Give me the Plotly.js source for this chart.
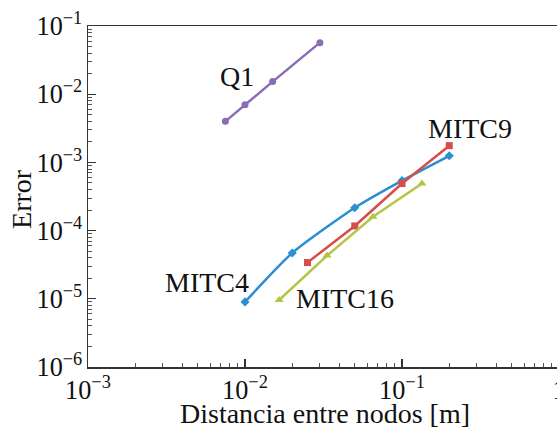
<!DOCTYPE html>
<html>
<head>
<meta charset="utf-8">
<script src="https://cdn.plot.ly/plotly-3.0.1.min.js"></script>
<style>
html,body{margin:0;padding:0;overflow:hidden;background:#fff;}
#chart{width:575px;height:428px;}
</style>
</head>
<body>
<div id="chart"></div>
<script>
// Data (x: distance between nodes [m], y: error)
const q1X = [0.0075, 0.01, 0.015, 0.03];
const q1Y = [0.0040, 0.0070, 0.0153, 0.057];

const mitc4X = [0.01, 0.02, 0.05, 0.1, 0.2];
const mitc4Y = [9.0e-6, 4.7e-5, 2.16e-4, 5.4e-4, 1.25e-3];

const mitc9X = [0.025, 0.05, 0.1, 0.2];
const mitc9Y = [3.4e-5, 1.17e-4, 4.9e-4, 1.76e-3];

const mitc16X = [0.0165, 0.0333, 0.0653, 0.134];
const mitc16Y = [9.6e-6, 4.3e-5, 1.6e-4, 4.9e-4];

const labels = ["Q1", "MITC4", "MITC9", "MITC16"];
const xTitle = "Distancia entre nodos [m]";
const yTitle = "Error";

const serif = "'Liberation Serif', 'DejaVu Serif', serif";

const traces = [
  {x: q1X, y: q1Y, name: labels[0], mode: "lines+markers",
   line: {color: "#8a6db3", width: 2.5}, marker: {symbol: "circle", size: 7, color: "#8a6db3"}},
  {x: mitc4X, y: mitc4Y, name: labels[1], mode: "lines+markers",
   line: {color: "#2b8fd0", width: 2.5, shape: "spline", smoothing: 0.6},
   marker: {symbol: "diamond", size: 7, color: "#2b8fd0"}},
  {x: mitc9X, y: mitc9Y, name: labels[2], mode: "lines+markers",
   line: {color: "#d94c4c", width: 2.5}, marker: {symbol: "square", size: 7, color: "#d94c4c"}},
  {x: mitc16X, y: mitc16Y, name: labels[3], mode: "lines+markers",
   line: {color: "#b5c445", width: 2.5}, marker: {symbol: "triangle-up", size: 8, color: "#b5c445"}}
];

const axisCommon = {
  type: "log",
  dtick: 1,
  exponentformat: "power",
  showgrid: false,
  zeroline: false,
  showline: true,
  linecolor: "#333",
  linewidth: 1.5,
  mirror: true,
  ticks: "inside",
  ticklen: 8,
  tickwidth: 1.2,
  tickcolor: "#333",
  tickfont: {family: serif, size: 21, color: "#111"},
  minor: {ticks: "inside", ticklen: 4, tickwidth: 1, tickcolor: "#555", dtick: "D1", showgrid: false},
  automargin: false
};

const annFont = {family: serif, size: 28, color: "#111"};

const layout = {
  width: 575,
  height: 428,
  margin: {l: 88, r: 16, t: 26, b: 61},
  paper_bgcolor: "#fff",
  plot_bgcolor: "#fff",
  showlegend: false,
  xaxis: Object.assign({}, axisCommon, {range: [-3, 0]}),
  yaxis: Object.assign({}, axisCommon, {range: [-6, -1]}),
  annotations: [
    {text: xTitle, xref: "paper", yref: "paper", x: 0.503, y: -0.135, xanchor: "center", yanchor: "middle", showarrow: false, font: annFont},
    {text: yTitle, xref: "paper", yref: "paper", x: -0.140, y: 0.493, xanchor: "center", yanchor: "middle", textangle: -90, showarrow: false, font: annFont},
    {text: labels[0], x: -2.051, y: -1.742, xref: "x", yref: "y", showarrow: false, font: annFont},
    {text: labels[1], x: -2.242, y: -4.766, xref: "x", yref: "y", showarrow: false, font: annFont},
    {text: labels[2], x: -0.567, y: -2.505, xref: "x", yref: "y", showarrow: false, font: annFont},
    {text: labels[3], x: -1.363, y: -5.001, xref: "x", yref: "y", showarrow: false, font: annFont}
  ]
};

Plotly.newPlot("chart", traces, layout, {displayModeBar: false, staticPlot: true});
</script>
</body>
</html>
